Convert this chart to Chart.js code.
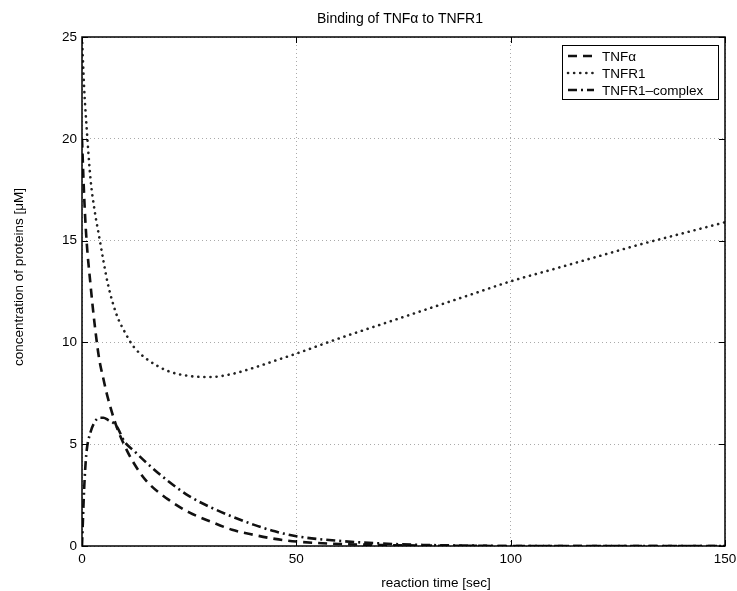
<!DOCTYPE html>
<html>
<head>
<meta charset="utf-8">
<script src="https://cdn.jsdelivr.net/npm/chart.js@4/dist/chart.umd.min.js"></script>
<style>
    html, body { margin: 0; padding: 0; background: #fff; }
    #wrap { width: 737px; height: 591px; }
</style>
</head>
<body>
<div id="wrap"><canvas id="bindingChart" width="737" height="591"></canvas></div>
<script>
const timeSec = [0, 0.5, 1, 2, 3, 4, 5, 6, 8, 10, 12, 15, 20, 25, 30, 35, 40, 45, 50, 60, 70, 80, 90, 100, 110, 120, 130, 140, 150];
const tnfAlpha = [20, 17.2, 15.2, 12.8, 10.8, 9.2, 8.2, 7.3, 5.9, 4.9, 4.1, 3.2, 2.3, 1.65, 1.2, 0.8, 0.55, 0.35, 0.22, 0.1, 0.05, 0.02, 0.01, 0, 0, 0, 0, 0, 0];
const tnfr1 = [25, 22.5, 20.8, 18, 16.4, 15.2, 14, 12.9, 11.4, 10.5, 9.8, 9.2, 8.6, 8.35, 8.3, 8.45, 8.75, 9.1, 9.45, 10.2, 10.9, 11.6, 12.3, 13.0, 13.6, 14.2, 14.8, 15.35, 15.9];
const tnfr1Complex = [0, 2.8, 4.5, 5.6, 6.1, 6.3, 6.3, 6.2, 5.9, 5.1, 4.7, 4.1, 3.2, 2.45, 1.9, 1.45, 1.05, 0.72, 0.48, 0.25, 0.12, 0.05, 0.02, 0, 0, 0, 0, 0, 0];

const xTicks = [0, 50, 100, 150];
const yTicks = [0, 5, 10, 15, 20, 25];

const chartTitle = "Binding of TNF\u03b1 to TNFR1";
const xTitle = "reaction time [sec]";
const yTitle = "concentration of proteins [\u03bcM]";

const FONT = "'Liberation Sans', Arial, Helvetica, sans-serif";

const toPoints = (vals) => timeSec.map((t, i) => ({ x: t, y: vals[i] }));

// box, inward ticks, titles and boxed legend like matlab
const framePlugin = {
    id: "frame",
    afterDraw(chart) {
        const ctx = chart.ctx;
        const a = chart.chartArea;
        const xs = chart.scales.x;
        const ys = chart.scales.y;
        ctx.save();
        ctx.strokeStyle = "#000";
        ctx.lineWidth = 1.5;
        ctx.setLineDash([]);
        ctx.strokeRect(a.left, a.top, a.right - a.left, a.bottom - a.top);
        ctx.lineWidth = 1;
        const tl = 6;
        xTicks.forEach((v) => {
            const px = Math.round(xs.getPixelForValue(v)) + 0.5;
            ctx.beginPath();
            ctx.moveTo(px, a.bottom); ctx.lineTo(px, a.bottom - tl);
            ctx.moveTo(px, a.top); ctx.lineTo(px, a.top + tl);
            ctx.stroke();
        });
        yTicks.forEach((v) => {
            const py = Math.round(ys.getPixelForValue(v)) + 0.5;
            ctx.beginPath();
            ctx.moveTo(a.left, py); ctx.lineTo(a.left + tl, py);
            ctx.moveTo(a.right, py); ctx.lineTo(a.right - tl, py);
            ctx.stroke();
        });

        // titles
        ctx.fillStyle = "#000";
        ctx.textAlign = "center";
        ctx.textBaseline = "middle";
        ctx.font = "14px " + FONT;
        ctx.fillText(chartTitle, 400, 19);
        ctx.font = "13.5px " + FONT;
        ctx.fillText(xTitle, 436, 583);
        ctx.save();
        ctx.translate(19, 277);
        ctx.rotate(-Math.PI / 2);
        ctx.fillText(yTitle, 0, 0);
        ctx.restore();

        // legend
        const bx = 562, by = 45, bw = 156, bh = 54;
        ctx.fillStyle = "#fff";
        ctx.fillRect(bx, by, bw, bh);
        ctx.lineWidth = 1;
        ctx.strokeStyle = "#000";
        ctx.strokeRect(bx + 0.5, by + 0.5, bw, bh);
        ctx.font = "13.5px " + FONT;
        ctx.textBaseline = "middle";
        ctx.textAlign = "left";
        chart.data.datasets.forEach((ds, i) => {
            const ry = by + 11 + i * 17;
            ctx.save();
            ctx.strokeStyle = ds.borderColor;
            ctx.lineWidth = ds.borderWidth;
            ctx.lineCap = ds.borderCapStyle || "butt";
            ctx.setLineDash(ds.borderDash || []);
            ctx.beginPath();
            ctx.moveTo(bx + 6, ry);
            ctx.lineTo(bx + 32, ry);
            ctx.stroke();
            ctx.restore();
            ctx.fillStyle = "#000";
            ctx.fillText(ds.label, bx + 40, ry + 1);
        });
        ctx.restore();
    }
};

new Chart(document.getElementById("bindingChart"), {
    type: "line",
    data: {
        datasets: [
            {
                label: "TNF\u03b1",
                data: toPoints(tnfAlpha),
                borderColor: "#111",
                borderWidth: 2.6,
                borderDash: [9, 6],
                pointRadius: 0,
                cubicInterpolationMode: "monotone"
            },
            {
                label: "TNFR1",
                data: toPoints(tnfr1),
                borderColor: "#222",
                borderWidth: 2.6,
                borderDash: [0.1, 6],
                borderCapStyle: "round",
                pointRadius: 0,
                cubicInterpolationMode: "monotone"
            },
            {
                label: "TNFR1\u2013complex",
                data: toPoints(tnfr1Complex),
                borderColor: "#111",
                borderWidth: 2.6,
                borderDash: [9, 4, 2, 4],
                pointRadius: 0,
                cubicInterpolationMode: "monotone"
            }
        ]
    },
    options: {
        responsive: false,
        animation: false,
        layout: { padding: { right: 12, left: 0, bottom: 0, top: 37 } },
        plugins: {
            legend: { display: false },
            tooltip: { enabled: false },
            title: { display: false }
        },
        scales: {
            x: {
                type: "linear",
                min: 0,
                max: 150,
                afterBuildTicks: (scale) => { scale.ticks = xTicks.map((v) => ({ value: v })); },
                afterFit: (scale) => {
                    scale.height = 45;
                    scale.paddingLeft = 0;
                    scale.paddingRight = 0;
                },
                ticks: {
                    color: "#000",
                    font: { family: FONT, size: 13.5 },
                    padding: 5,
                    maxRotation: 0
                },
                grid: { color: "#aaa", lineWidth: 1, drawTicks: false },
                border: { display: false, dash: [1, 3] }
            },
            y: {
                type: "linear",
                min: 0,
                max: 25,
                afterBuildTicks: (scale) => { scale.ticks = yTicks.map((v) => ({ value: v })); },
                afterFit: (scale) => {
                    scale.width = 82;
                    scale.paddingTop = 0;
                    scale.paddingBottom = 0;
                },
                ticks: {
                    color: "#000",
                    font: { family: FONT, size: 13.5 },
                    padding: 5
                },
                grid: { color: "#aaa", lineWidth: 1, drawTicks: false },
                border: { display: false, dash: [1, 3] }
            }
        }
    },
    plugins: [framePlugin]
});
</script>
</body>
</html>
